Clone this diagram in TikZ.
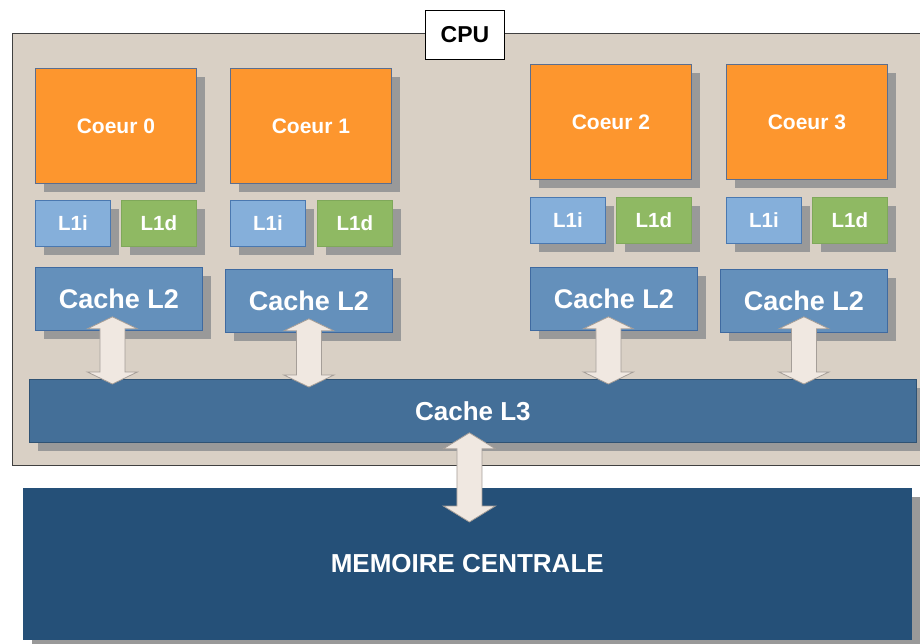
\documentclass[tikz,border=0pt]{standalone}
\usepackage{fontspec}
\setmainfont{Liberation Sans}
\usetikzlibrary{shadows,calc}
\definecolor{bgc}{HTML}{D9D0C5}
\definecolor{orangec}{HTML}{FD962E}
\definecolor{coreborder}{HTML}{5A6E90}
\definecolor{lic}{HTML}{85AFDA}
\definecolor{liborder}{HTML}{4A78B0}
\definecolor{ldc}{HTML}{8FB963}
\definecolor{ldborder}{HTML}{7FA85A}
\definecolor{ltwoc}{HTML}{6490BB}
\definecolor{ltwoborder}{HTML}{3F6AA0}
\definecolor{lthreec}{HTML}{446F98}
\definecolor{lthreeborder}{HTML}{2F5273}
\definecolor{memc}{HTML}{255078}
\definecolor{shadowc}{HTML}{999999}
\definecolor{arrowfill}{HTML}{F0E8E1}
\definecolor{arrowborder}{HTML}{A59E98}
\tikzset{
  box/.style={rectangle, anchor=north west, inner sep=0pt, text=white,
    drop shadow={shadow xshift=9pt, shadow yshift=-9pt, fill=shadowc, opacity=1}},
  core/.style={box, fill=orangec, draw=coreborder, line width=0.8pt,
    minimum width=161pt, minimum height=115pt, font=\fontsize{21}{25}\selectfont\bfseries},
  lone/.style={box, line width=0.8pt, minimum width=75pt, minimum height=46pt,
    font=\fontsize{20.5}{24}\selectfont\bfseries},
  linst/.style={lone, fill=lic, draw=liborder},
  ldata/.style={lone, fill=ldc, draw=ldborder},
  ltwo/.style={box, fill=ltwoc, draw=ltwoborder, line width=0.8pt,
    minimum width=167pt, minimum height=63pt, font=\fontsize{27}{31}\selectfont\bfseries},
  lthree/.style={box, fill=lthreec, draw=lthreeborder, line width=0.8pt,
    minimum width=887pt, minimum height=63pt, font=\fontsize{26}{30}\selectfont\bfseries},
  memstyle/.style={box, fill=memc, draw=memc, line width=0.5pt,
    minimum width=888pt, minimum height=151pt, font=\fontsize{26}{30}\selectfont\bfseries},
  cpuframe/.style={rectangle, anchor=north west, inner sep=0pt, fill=bgc,
    draw=black!75, line width=0.9pt},
  cpulabel/.style={rectangle, anchor=north west, inner sep=0pt, fill=white,
    draw=black, line width=0.9pt, minimum width=79pt, minimum height=49pt,
    font=\fontsize{23}{27}\selectfont\bfseries},
  bigarrow/.style={fill=arrowfill, draw=arrowborder, line width=0.8pt, line join=miter}
}
% #1 top node, #2 bottom node, #3 x shift, #4 top overlap, #5 bottom overlap,
% #6 head length, #7 head half width, #8 shaft half width
\newcommand{\vdarrow}[8]{%
  \draw[bigarrow] let \p1=(#1.south), \p2=(#2.north) in
    (\x1+#3, \y1+#4) -- (\x1+#3+#7, \y1+#4-#6) -- (\x1+#3+#8, \y1+#4-#6)
    -- (\x1+#3+#8, \y2-#5+#6) -- (\x1+#3+#7, \y2-#5+#6) -- (\x1+#3, \y2-#5)
    -- (\x1+#3-#7, \y2-#5+#6) -- (\x1+#3-#8, \y2-#5+#6)
    -- (\x1+#3-#8, \y1+#4-#6) -- (\x1+#3-#7, \y1+#4-#6) -- cycle;
}
\begin{document}
\begin{tikzpicture}[x=1pt,y=-1pt]
\useasboundingbox (0,0) rectangle (920,644);
\clip (0,0) rectangle (920,644);
% CPU frame
\node[cpuframe, minimum width=930pt, minimum height=432pt] (cpu) at (12,33) {};
\node[cpulabel] (cpulbl) at (425,10) {CPU};
% cores
\node[core] (c0) at (35,68) {Coeur 0};
\node[core] (c1) at (230,68) {Coeur 1};
\node[core] (c2) at (530,64) {Coeur 2};
\node[core] (c3) at (726,64) {Coeur 3};
% L1
\node[linst] (i0) at (35,200) {L1i};
\node[ldata] (d0) at (121,200) {L1d};
\node[linst] (i1) at (230,200) {L1i};
\node[ldata] (d1) at (317,200) {L1d};
\node[linst] (i2) at (530,197) {L1i};
\node[ldata] (d2) at (616,197) {L1d};
\node[linst] (i3) at (726,197) {L1i};
\node[ldata] (d3) at (812,197) {L1d};
% L2
\node[ltwo] (l2a) at (35,267) {Cache L2};
\node[ltwo] (l2b) at (225,269) {Cache L2};
\node[ltwo] (l2c) at (530,267) {Cache L2};
\node[ltwo] (l2d) at (720,269) {Cache L2};
% L3
\node[lthree] (l3) at (29,379) {Cache L3};
% arrows L2 <-> L3
\vdarrow{l2a}{l3}{-6.5pt}{14pt}{5pt}{12pt}{25pt}{12.5pt}
\vdarrow{l2b}{l3}{0pt}{14pt}{8pt}{12pt}{25pt}{12.5pt}
\vdarrow{l2c}{l3}{-5.5pt}{14pt}{5pt}{12pt}{25pt}{12.5pt}
\vdarrow{l2d}{l3}{0pt}{16pt}{5pt}{12pt}{25pt}{12.5pt}
% memory
\node[memstyle] (mem) at (23,488) {MEMOIRE CENTRALE};
\vdarrow{l3}{mem}{-3.5pt}{10pt}{34pt}{16pt}{26pt}{12.5pt}
\end{tikzpicture}
\end{document}
